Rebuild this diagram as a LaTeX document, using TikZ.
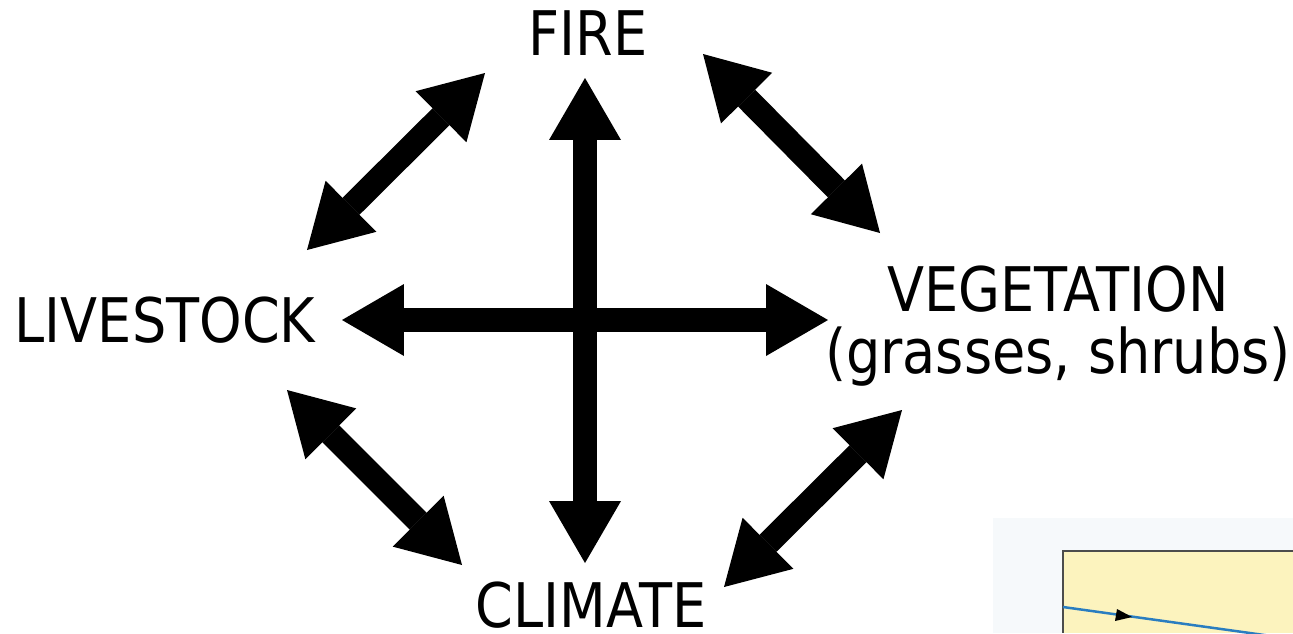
\documentclass[tikz,border=0pt]{standalone}
\usepackage{fontspec}
\newfontfamily\begrifffont{DejaVu Sans}[FakeStretch=0.88]
\usetikzlibrary{arrows.meta}
\definecolor{gelbfeld}{HTML}{FCF3BE}
\definecolor{flusslinie}{HTML}{2A7DC0}
\definecolor{hintergrund}{HTML}{F6F9FB}

\tikzset{
  spitze/.tip={Triangle[length=1.24cm, width=1.44cm, line width=0pt]},
  doppelpfeil/.style={line width=0.48cm, {spitze}-{spitze}},
  begriff/.style={font=\begrifffont\fontsize{35}{35.2}\selectfont, align=center, inner sep=0pt, anchor=base},
}

\begin{document}
\begin{tikzpicture}[x=0.02cm, y=-0.02cm]

    \useasboundingbox (0,0) rectangle (1293,633);

    % Ausschnitt der Nachbarabbildung (unten rechts)
    \fill[hintergrund] (993,518) rectangle (1293,633);
    \fill[gelbfeld] (1063,551) rectangle (1293,633);
    \draw[black!70, line width=0.04cm] (1293,551) -- (1063,551) -- (1063,633);
    \draw[flusslinie, line width=0.05cm] (1063,607) -- (1293,639);
    \fill[black] (1132,617) -- (1117,609) -- (1115,621) -- cycle;

    % Begriffe (Grundlinie, bei zwei Zeilen die untere)
    \node[begriff] (feuer) at (588,55) {FIRE};
    \node[begriff] (vieh) at (165,342) {LIVESTOCK};
    \node[begriff] (vegetation) at (1058,373) {VEGETATION\\(grasses, shrubs)};
    \node[begriff] (klima) at (591,627) {CLIMATE};

    % Pfeilenden
    \coordinate (h-links) at (342,320);
    \coordinate (h-rechts) at (828,320);
    \coordinate (v-oben) at (585,78);
    \coordinate (v-unten) at (585,563);
    \coordinate (ol-a) at (307,250);
    \coordinate (ol-b) at (485,73);
    \coordinate (or-a) at (703,54);
    \coordinate (or-b) at (880,233);
    \coordinate (ul-a) at (287,390);
    \coordinate (ul-b) at (462,565);
    \coordinate (ur-a) at (724,587);
    \coordinate (ur-b) at (902,410);

    % Kreuz in der Mitte
    \draw[doppelpfeil] (h-links) -- (h-rechts);
    \draw[doppelpfeil] (v-oben) -- (v-unten);

    % Diagonale Wechselwirkungen
    \draw[doppelpfeil] (ol-a) -- (ol-b);
    \draw[doppelpfeil] (or-a) -- (or-b);
    \draw[doppelpfeil] (ul-a) -- (ul-b);
    \draw[doppelpfeil] (ur-a) -- (ur-b);

\end{tikzpicture}
\end{document}
